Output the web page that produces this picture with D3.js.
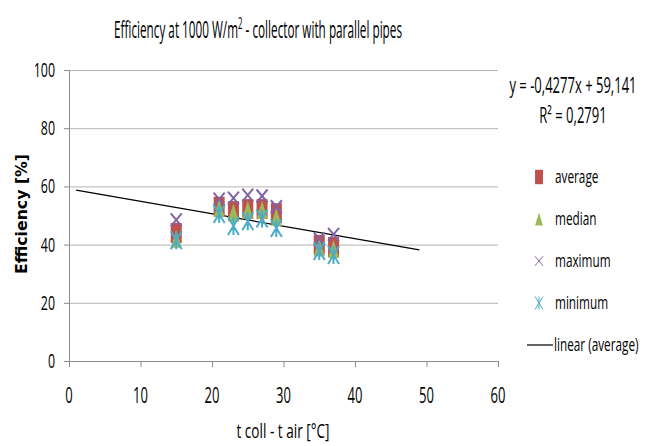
<!DOCTYPE html>
<html>
<head>
<meta charset="utf-8">
<script src="https://cdn.jsdelivr.net/npm/d3@7"></script>
<style>
  body { margin: 0; background: #fff; }
  svg { display: block; font-family: "Open Sans", "Liberation Sans", sans-serif; }
  .grid line { stroke: #b4b4b4; }
  .axis path, .axis line { stroke: #8c8c8c; }
</style>
</head>
<body>
<div id="chart"></div>
<script>
// chart data
const xValues = [15, 21, 23, 25, 27, 29, 35, 37];
const averageVals = [44, 53, 51.5, 52.2, 52.2, 50.8, 39.9, 39.2];
const medianVals = [42, 52.5, 51, 52, 52, 49.5, 39, 38.5];
const maximumVals = [48.5, 55.6, 56, 57, 56.7, 53, 42, 43.5];
const minimumVals = [41.5, 50.5, 46.4, 48, 49, 45.7, 37.8, 36.4];
const xTicks = [0, 10, 20, 30, 40, 50, 60];
const yTicks = [0, 20, 40, 60, 80, 100];
const trendSlope = -0.4277, trendIntercept = 59.141;
const trendRange = [1, 49];
const seriesNames = ['average', 'median', 'maximum', 'minimum'];

const width = 654, height = 446,
      margin = {top: 70, right: 156, bottom: 85, left: 69};

const colors = {average: '#c0504d', median: '#9bbb59', maximum: '#8064a2', minimum: '#4bacc6'};

const x = d3.scaleLinear().domain([0, 60]).range([margin.left, width - margin.right]);
const y = d3.scaleLinear().domain([0, 100]).range([height - margin.bottom, margin.top]);

const svg = d3.select('#chart').append('svg')
    .attr('width', width)
    .attr('height', height);

svg.append('rect').attr('width', width).attr('height', height).attr('fill', '#fff');

// narrow text helper (squeezed horizontally like the original)
function label(g, px, py, str, opts = {}) {
  const t = g.append('text')
     .attr('transform', `translate(${px},${py}) scale(${opts.sx || 0.62},1)`)
     .attr('text-anchor', opts.anchor || 'middle')
     .attr('font-size', opts.size || 18)
     .attr('font-weight', opts.weight || 'normal')
     .attr('fill', '#000');
  t.text(str);
  return t;
}

// horizontal grid lines
svg.append('g')
   .attr('class', 'grid')
   .attr('transform', `translate(${margin.left},0)`)
   .call(d3.axisLeft(y).tickValues(yTicks.filter(d => d > 0))
           .tickSize(-(width - margin.left - margin.right)).tickFormat(''))
   .call(g => g.select('.domain').remove());

// axes
svg.append('g')
   .attr('class', 'axis')
   .attr('transform', `translate(0,${y(0)})`)
   .call(d3.axisBottom(x).tickValues(xTicks).tickSize(6).tickSizeOuter(0).tickFormat(''));

svg.append('g')
   .attr('class', 'axis')
   .attr('transform', `translate(${margin.left},0)`)
   .call(d3.axisLeft(y).tickValues(yTicks).tickSize(5).tickSizeOuter(0).tickFormat(''));

// tick labels
xTicks.forEach(v => label(svg, x(v), 403, v, {size: 21}));
yTicks.forEach(v => label(svg, 55, y(v) + 7, v, {size: 20, anchor: 'end'}));

// title
const title = svg.append('text')
   .attr('transform', 'translate(258,38) scale(0.49,1)')
   .attr('text-anchor', 'middle')
   .attr('font-size', 24);
title.append('tspan').text('Efficiency at 1000 W/m');
title.append('tspan').attr('font-size', 16).attr('dy', -9).text('2');
title.append('tspan').attr('dy', 9).text(' - collector with parallel pipes');

// axis titles
label(svg, 283, 438, 't coll - t air [°C]', {size: 20, sx: 0.68});
svg.append('text')
   .attr('transform', 'translate(27,214) rotate(-90) scale(1.05,1)')
   .attr('text-anchor', 'middle')
   .attr('font-family', 'DejaVu Sans, Verdana, sans-serif')
   .attr('font-weight', 'bold')
   .attr('font-size', 15)
   .text('Efficiency [%]');

// trendline of average
const trendLine = d3.line().x(d => x(d)).y(d => y(trendSlope * d + trendIntercept));
svg.append('path')
   .datum(trendRange)
   .attr('fill', 'none')
   .attr('stroke', '#000')
   .attr('stroke-width', 1.3)
   .attr('d', trendLine);

// marker shapes
function drawMarker(g, kind, cx, cy, s) {
  const w = 11 * s;
  if (kind === 'average') {
    const h = 20 * s;
    g.append('rect').attr('x', cx - w / 2).attr('y', cy - h / 2)
     .attr('width', w).attr('height', h).attr('fill', colors.average);
  } else if (kind === 'median') {
    const h = 18 * s;
    g.append('path')
     .attr('d', `M${cx},${cy - h / 2}L${cx + w / 2},${cy + h / 2}L${cx - w / 2},${cy + h / 2}Z`)
     .attr('fill', colors.median);
  } else if (kind === 'maximum') {
    const h = 13 * s;
    g.append('path')
     .attr('d', `M${cx - w / 2},${cy - h / 2}L${cx + w / 2},${cy + h / 2}M${cx + w / 2},${cy - h / 2}L${cx - w / 2},${cy + h / 2}`)
     .attr('stroke', colors.maximum).attr('stroke-width', s < 1 ? 1 : 2).attr('fill', 'none');
  } else {
    const h = 18 * s;
    g.append('path')
     .attr('d', `M${cx - w / 2},${cy - h / 2}L${cx + w / 2},${cy + h / 2}M${cx + w / 2},${cy - h / 2}L${cx - w / 2},${cy + h / 2}M${cx},${cy - h / 2}L${cx},${cy + h / 2}`)
     .attr('stroke', colors.minimum).attr('stroke-width', s < 1 ? 1 : 2).attr('fill', 'none');
  }
}

const seriesVals = {average: averageVals, median: medianVals, maximum: maximumVals, minimum: minimumVals};
const points = svg.append('g').attr('class', 'points');
seriesNames.forEach(name => {
  seriesVals[name].forEach((v, i) => drawMarker(points, name, x(xValues[i]), y(v), 1));
});

// equation
label(svg, 573, 93, 'y = -0,4277x + 59,141', {size: 21});
const r2 = svg.append('text')
   .attr('transform', 'translate(573,123) scale(0.62,1)')
   .attr('text-anchor', 'middle')
   .attr('font-size', 21);
r2.append('tspan').text('R² = 0,2791');

// legend
const legend = svg.append('g').attr('class', 'legend');
seriesNames.forEach((name, i) => {
  const ly = 177 + i * 42;
  drawMarker(legend, name, 539, ly, 0.72);
  label(legend, 555, ly + 6, name, {size: 19, anchor: 'start'});
});
legend.append('line')
   .attr('x1', 527).attr('x2', 553)
   .attr('y1', 345).attr('y2', 345)
   .attr('stroke', '#000').attr('stroke-width', 1.2);
label(legend, 554, 351, 'linear (average)', {size: 19, anchor: 'start'});
</script>
</body>
</html>
